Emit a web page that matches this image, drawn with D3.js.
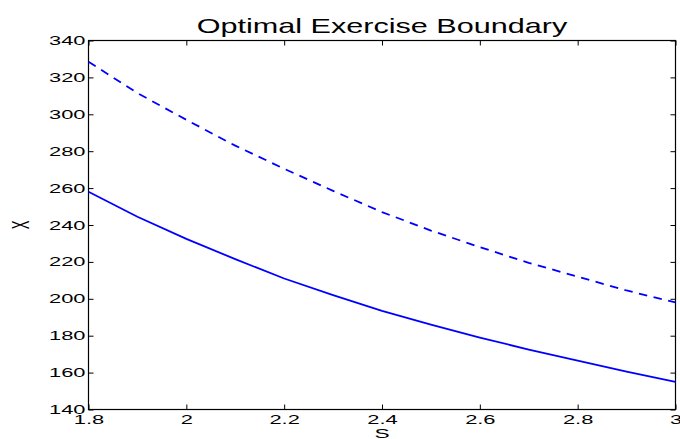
<!DOCTYPE html>
<html>
<head>
<meta charset="utf-8">
<script src="https://cdn.jsdelivr.net/npm/d3@7"></script>
<style>
  body { margin: 0; background: #fff; }
  svg { display: block; }
  text { font-family: "Liberation Sans", Arial, sans-serif; fill: #000; }
</style>
</head>
<body>
<div id="chart"></div>
<script>
// values
var sVals = [1.8, 1.9, 2.0, 2.1, 2.2, 2.3, 2.4, 2.5, 2.6, 2.7, 2.8, 2.9, 3.0];
var boundSolid = [258, 244.5, 232.5, 221.5, 211, 202, 193.5, 186, 179, 172.5, 166.5, 160.5, 155];
var boundDashed = [328.5, 311.5, 297, 283, 270.5, 258.5, 247, 237, 228, 219.5, 212, 204.5, 198];
var xTicks = [1.8, 2, 2.2, 2.4, 2.6, 2.8, 3];
var yTicks = [140, 160, 180, 200, 220, 240, 260, 280, 300, 320, 340];
var title = 'Optimal Exercise Boundary';
var xLabel = 'S', yLabel = 'X';

var W = 680, H = 439;
// plot box edges (window.top is taken, so prefix them)
var pLeft = 88.5, pRight = 675.5, pTop = 40.5, pBottom = 409.5;

var svg = d3.select('#chart')
    .append('svg')
    .attr('width', W)
    .attr('height', H);

var x = d3.scaleLinear().domain([1.8, 3]).range([pLeft, pRight]);
var y = d3.scaleLinear().domain([140, 340]).range([pBottom, pTop]);

// stretched text like the original figure
var tickSx = 1.75;

var gx = svg.append('g')
    .attr('transform', 'translate(0,' + pBottom + ')')
    .call(d3.axisBottom(x).tickValues(xTicks).tickSizeInner(-5).tickSizeOuter(0).tickPadding(6)
        .tickFormat(function(d) { return String(d); }));
gx.select('.domain').remove();
gx.selectAll('text')
    .style('font-size', '12.5px')
    .attr('transform', 'scale(' + tickSx + ',1)');

var gy = svg.append('g')
    .attr('transform', 'translate(' + pLeft + ',0)')
    .call(d3.axisLeft(y).tickValues(yTicks).tickSizeInner(-5).tickSizeOuter(0));
gy.select('.domain').remove();
gy.selectAll('text')
    .style('font-size', '12.5px')
    .attr('x', 0)
    .attr('transform', 'translate(-3,0) scale(' + tickSx + ',1)');

var gt = svg.append('g')
    .attr('transform', 'translate(0,' + pTop + ')')
    .call(d3.axisTop(x).tickValues(xTicks).tickSizeInner(-5).tickSizeOuter(0).tickFormat(''));
gt.select('.domain').remove();

var gr = svg.append('g')
    .attr('transform', 'translate(' + pRight + ',0)')
    .call(d3.axisRight(y).tickValues(yTicks).tickSizeInner(-5).tickSizeOuter(0).tickFormat(''));
gr.select('.domain').remove();

svg.selectAll('.tick line').style('stroke', '#000');

svg.append('rect')
    .attr('x', pLeft)
    .attr('y', pTop)
    .attr('width', pRight - pLeft)
    .attr('height', pBottom - pTop)
    .style('fill', 'none')
    .style('stroke', '#000')
    .style('stroke-width', 1.2);

var line = d3.line()
    .x(function(d) { return x(d[0]); })
    .y(function(d) { return y(d[1]); });

svg.append('path')
    .datum(d3.zip(sVals, boundDashed))
    .attr('d', line)
    .style('fill', 'none')
    .style('stroke', '#0000ff')
    .style('stroke-width', 1.8)
    .style('stroke-dasharray', '8.5,6.5');

svg.append('path')
    .datum(d3.zip(sVals, boundSolid))
    .attr('d', line)
    .style('fill', 'none')
    .style('stroke', '#0000ff')
    .style('stroke-width', 1.8);

svg.append('text')
    .attr('transform', 'translate(' + ((pLeft + pRight) / 2) + ',33) scale(1.53,1)')
    .attr('text-anchor', 'middle')
    .style('font-size', '20px')
    .text(title);

svg.append('text')
    .attr('transform', 'translate(' + ((pLeft + pRight) / 2) + ',438) scale(' + tickSx + ',1)')
    .attr('text-anchor', 'middle')
    .style('font-size', '13px')
    .text(xLabel);

svg.append('text')
    .attr('transform', 'translate(21,' + ((pTop + pBottom) / 2) + ') scale(1.8,1) rotate(-90)')
    .attr('text-anchor', 'middle')
    .attr('dy', '0.35em')
    .style('font-size', '13px')
    .text(yLabel);
</script>
</body>
</html>
